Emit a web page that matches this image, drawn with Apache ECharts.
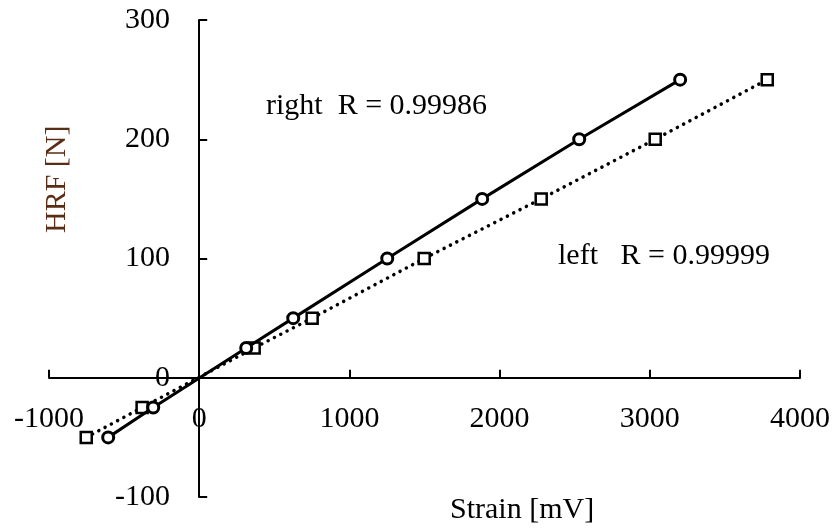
<!DOCTYPE html>
<html>
<head>
<meta charset="utf-8">
<script src="https://cdn.jsdelivr.net/npm/echarts@6/dist/echarts.min.js"></script>
<style>html,body{margin:0;padding:0;background:#fff}#c{width:837px;height:531px}</style>
</head>
<body>
<div id="c"></div>
<script>
// Data
var rightStrain = [-606, -306, 313, 626, 1252, 1884, 2530, 3202];
var rightHRF    = [-50, -25, 25, 50, 100, 150, 200, 250];
var leftStrain  = [-752, -380, 366, 752, 1498, 2277, 3036, 3782];
var leftHRF     = [-50, -25, 25, 50, 100, 150, 200, 250];
var xTicks = [-1000, 0, 1000, 2000, 3000, 4000];
var yTicks = [-100, 0, 100, 200, 300];
var rightLabel = 'right  R = 0.99986';
var leftLabel = 'left   R = 0.99999';
var xTitle = 'Strain [mV]';
var yTitle = 'HRF [N]';

function pairs(xs, ys){ return xs.map(function(x,i){ return [x, ys[i]]; }); }

var font = 'Liberation Serif, Times New Roman, serif';
var chart = echarts.init(document.getElementById('c'), null, {renderer:'canvas'});
chart.setOption({
  animation: false,
  backgroundColor: '#fff',
  grid: {left: 49, right: 37, top: 20, bottom: 34, containLabel: false, outerBoundsMode: 'none'},
  xAxis: {
    type: 'value', min: xTicks[0], max: xTicks[xTicks.length-1], interval: 1000,
    axisLine: {onZero: true, lineStyle: {color: '#000', width: 2}},
    axisTick: {inside: true, length: 8, lineStyle: {color: '#000', width: 2}},
    axisLabel: {margin: -93, color: '#000', fontFamily: font, fontSize: 30,
      formatter: function(v){ return String(v); }},
    splitLine: {show: false}
  },
  yAxis: {
    type: 'value', min: yTicks[0], max: yTicks[yTicks.length-1], interval: 100,
    axisLine: {onZero: true, lineStyle: {color: '#000', width: 2}},
    axisTick: {inside: true, length: 8, lineStyle: {color: '#000', width: 2}},
    axisLabel: {margin: -121, color: '#000', fontFamily: font, fontSize: 30,
      formatter: function(v){ return String(v); }},
    splitLine: {show: false}
  },
  series: [
    {
      name: 'right', type: 'line', data: pairs(rightStrain, rightHRF),
      symbol: 'circle', symbolSize: 11,
      itemStyle: {color: '#fff', borderColor: '#000', borderWidth: 3},
      lineStyle: {color: '#000', width: 3},
      z: 3
    },
    {
      name: 'left', type: 'line', data: pairs(leftStrain, leftHRF),
      symbol: 'rect', symbolSize: 11,
      itemStyle: {color: '#fff', borderColor: '#000', borderWidth: 2.5},
      lineStyle: {color: '#000', width: 3.5, type: [0.1, 7], cap: 'round'},
      z: 2
    }
  ],
  graphic: [
    {type: 'text', left: 266, top: 91, style: {text: rightLabel, font: '30px ' + font, fill: '#000'}},
    {type: 'text', left: 558, top: 241, style: {text: leftLabel, font: '30px ' + font, fill: '#000'}},
    {type: 'text', left: 450, top: 495, style: {text: xTitle, font: '30px ' + font, fill: '#000'}},
    {type: 'text', x: 42, y: 233, rotation: Math.PI/2, style: {text: yTitle, font: '30px ' + font, fill: '#5a2e16', textAlign: 'left', textVerticalAlign: 'top'}}
  ]
});
</script>
</body>
</html>
